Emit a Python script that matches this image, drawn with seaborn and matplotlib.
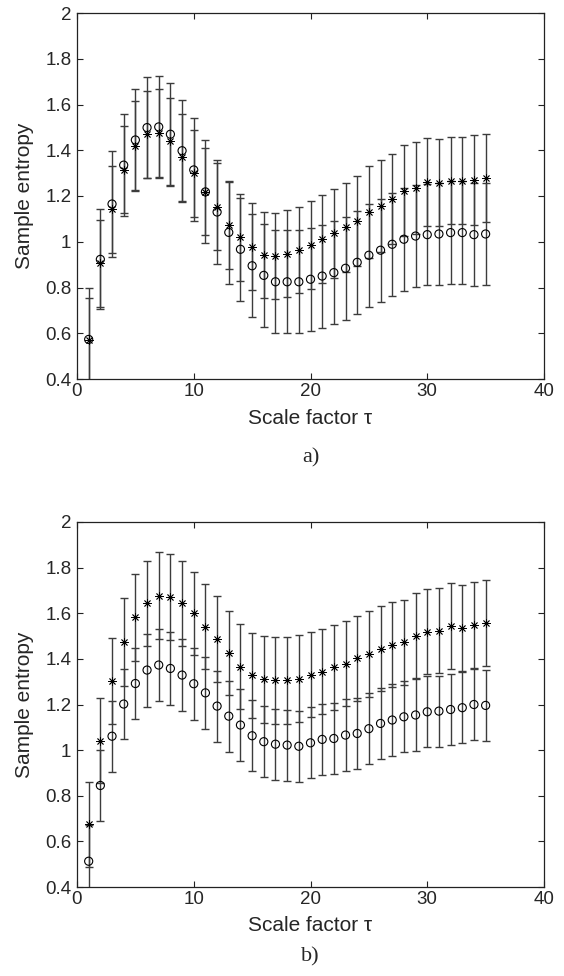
import numpy as np
import matplotlib
matplotlib.use("Agg")
import matplotlib.pyplot as plt
import seaborn as sns

# scale factors
tau = np.arange(1, 36)

# panel a) - '*' series and 'o' series (mean and std)
star_a = [0.570, 0.906, 1.143, 1.314, 1.420, 1.470, 1.474, 1.439, 1.369, 1.300,
          1.218, 1.153, 1.073, 1.019, 0.978, 0.942, 0.938, 0.947, 0.962, 0.986,
          1.012, 1.037, 1.063, 1.092, 1.129, 1.156, 1.186, 1.223, 1.235, 1.261,
          1.258, 1.266, 1.266, 1.270, 1.279]
star_a_err = [0.186, 0.190, 0.190, 0.190, 0.194, 0.190, 0.192, 0.190, 0.190, 0.190,
              0.190, 0.190, 0.190, 0.190, 0.190, 0.190, 0.189, 0.190, 0.188, 0.194,
              0.191, 0.195, 0.195, 0.197, 0.200, 0.200, 0.198, 0.200, 0.200, 0.193,
              0.190, 0.190, 0.190, 0.195, 0.192]
circ_a = [0.573, 0.923, 1.165, 1.335, 1.445, 1.499, 1.502, 1.470, 1.398, 1.314,
          1.218, 1.130, 1.041, 0.967, 0.895, 0.853, 0.825, 0.825, 0.825, 0.836,
          0.850, 0.865, 0.884, 0.910, 0.941, 0.963, 0.989, 1.011, 1.025, 1.031,
          1.034, 1.040, 1.040, 1.031, 1.034]
circ_a_err = [0.225, 0.219, 0.230, 0.224, 0.222, 0.222, 0.224, 0.225, 0.223, 0.225,
              0.225, 0.226, 0.225, 0.226, 0.225, 0.225, 0.225, 0.225, 0.225, 0.224,
              0.225, 0.226, 0.226, 0.225, 0.226, 0.225, 0.225, 0.226, 0.224, 0.220,
              0.223, 0.224, 0.224, 0.225, 0.225]

# panel b)
star_b = [0.674, 1.041, 1.303, 1.472, 1.582, 1.643, 1.677, 1.671, 1.643, 1.599,
          1.541, 1.487, 1.424, 1.366, 1.329, 1.310, 1.306, 1.306, 1.313, 1.330,
          1.344, 1.363, 1.379, 1.402, 1.421, 1.444, 1.463, 1.472, 1.501, 1.520,
          1.523, 1.544, 1.535, 1.548, 1.558]
star_b_err = [0.187, 0.186, 0.190, 0.193, 0.190, 0.187, 0.190, 0.190, 0.187, 0.183,
              0.186, 0.187, 0.184, 0.187, 0.186, 0.190, 0.190, 0.190, 0.190, 0.186,
              0.187, 0.187, 0.187, 0.187, 0.187, 0.187, 0.187, 0.187, 0.187, 0.186,
              0.187, 0.187, 0.187, 0.188, 0.188]
circ_b = [0.513, 0.845, 1.061, 1.202, 1.292, 1.351, 1.373, 1.358, 1.329, 1.291,
          1.251, 1.193, 1.149, 1.110, 1.063, 1.037, 1.026, 1.022, 1.017, 1.032,
          1.047, 1.051, 1.066, 1.073, 1.094, 1.117, 1.132, 1.146, 1.154, 1.168,
          1.171, 1.178, 1.186, 1.200, 1.196]
circ_b_err = [0.160, 0.155, 0.156, 0.155, 0.156, 0.160, 0.157, 0.158, 0.157, 0.157,
              0.158, 0.156, 0.156, 0.156, 0.156, 0.156, 0.156, 0.156, 0.156, 0.156,
              0.156, 0.156, 0.156, 0.156, 0.156, 0.156, 0.156, 0.156, 0.156, 0.156,
              0.156, 0.156, 0.156, 0.155, 0.155]

yticks = [0.4, 0.6, 0.8, 1.0, 1.2, 1.4, 1.6, 1.8, 2.0]
yticklabels = ['0.4', '0.6', '0.8', '1', '1.2', '1.4', '1.6', '1.8', '2']
xticks = [0, 10, 20, 30, 40]

sns.set_theme(style="ticks")
plt.rcParams['font.family'] = ['Liberation Sans', 'DejaVu Sans']
plt.rcParams['xtick.direction'] = 'in'
plt.rcParams['ytick.direction'] = 'in'
plt.rcParams['xtick.top'] = True
plt.rcParams['ytick.right'] = True

W, H = 564, 976
fig = plt.figure(figsize=(W / 100, H / 100), dpi=100)
ax_a = fig.add_axes([77 / W, 1 - 379 / H, 467 / W, 366 / H])
ax_b = fig.add_axes([77 / W, 1 - 887 / H, 467 / W, 365 / H])

bar_col = '#3c3c3c'


def draw_panel(ax, s_mean, s_err, c_mean, c_err):
    ax.errorbar(tau, s_mean, yerr=s_err, fmt='none', ecolor=bar_col,
                elinewidth=1.0, capsize=3, capthick=1.0)
    ax.errorbar(tau, c_mean, yerr=c_err, fmt='none', ecolor=bar_col,
                elinewidth=1.0, capsize=3, capthick=1.0)
    sns.scatterplot(x=tau, y=c_mean, marker='o', s=34, facecolor='none',
                    edgecolor='black', linewidth=0.8, ax=ax, zorder=3)
    sns.scatterplot(x=tau, y=s_mean, marker=(8, 2, 0), s=30, color='black',
                    linewidth=0.6, ax=ax, zorder=4)
    ax.set_xlim(0, 40)
    ax.set_ylim(0.4, 2.0)
    ax.set_xticks(xticks)
    ax.set_xticklabels([str(t) for t in xticks])
    ax.set_yticks(yticks)
    ax.set_yticklabels(yticklabels)
    ax.tick_params(labelsize=13.5, length=4, width=0.8, color='#222222',
                   pad=3)
    ax.tick_params(axis='y', pad=4)
    for sp in ax.spines.values():
        sp.set_color('#222222')
        sp.set_linewidth(0.9)
    ax.set_xlabel('Scale factor τ', fontsize=15, va='center')
    ax.xaxis.set_label_coords(0.5, -39 / 366)
    ax.set_ylabel('Sample entropy', fontsize=15, va='center')
    ax.yaxis.set_label_coords(-52 / 467, 0.5)


draw_panel(ax_a, star_a, star_a_err, circ_a, circ_a_err)
draw_panel(ax_b, star_b, star_b_err, circ_b, circ_b_err)

fig.text(310.5 / W, 1 - 458 / H, 'a)', ha='center', va='center', fontsize=16,
         family=['Liberation Serif', 'DejaVu Serif'])
fig.text(310.5 / W, 1 - 957 / H, 'b)', ha='center', va='center', fontsize=16,
         family=['Liberation Serif', 'DejaVu Serif'])

fig.savefig('out.png', dpi=100, facecolor='white')
